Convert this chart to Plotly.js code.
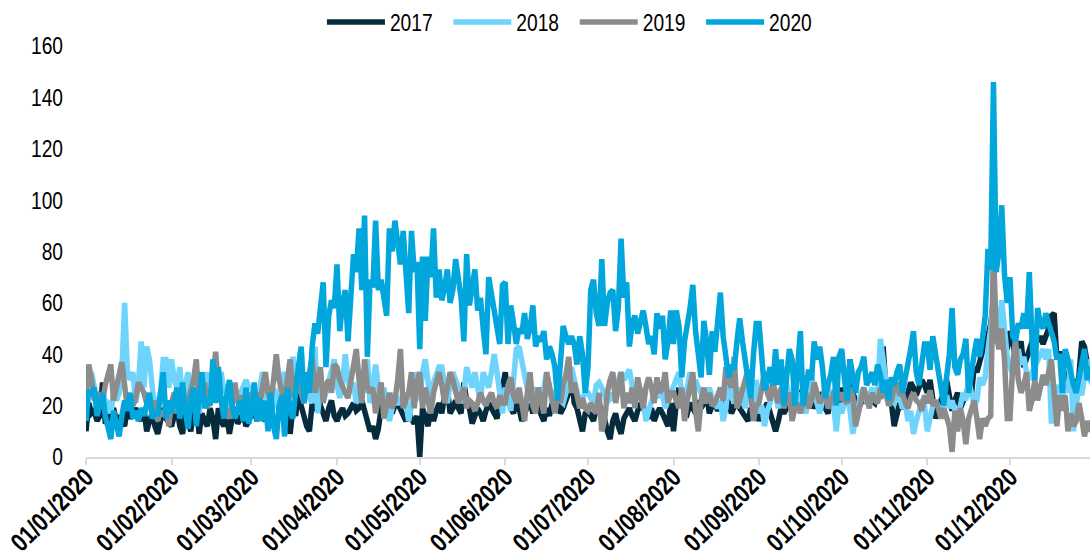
<!DOCTYPE html>
<html>
<head>
<meta charset="utf-8">
<script src="https://cdn.plot.ly/plotly-3.0.1.min.js"></script>
<style>
html,body{margin:0;padding:0;background:#fff;}
#chart{width:1090px;height:557px;}
</style>
</head>
<body>
<div id="chart"></div>
<script>
// Series names and colours
var seriesNames = ["2017", "2018", "2019", "2020"];
var seriesColors = ["#062b3d", "#6fd4fb", "#8c8c8c", "#00a6dc"];

// Daily values, one row per month (Jan..Dec), 366 days of 2020 on the x axis
var v2017 = [
  10,21,17,18,14,16,29,13,15,17,19,14,16,14,12,19,15,17,19,16,14,19,10,14,17,12,9,14,19,15,13,
  12,16,19,12,9,17,14,10,19,22,9,17,14,12,19,15,7,19,14,12,16,9,15,18,13,15,17,12,14,
  21,17,14,19,16,14,17,20,21,25,19,17,19,22,9,19,16,25,20,15,12,10,21,18,25,20,17,14,19,22,16,
  14,17,19,16,17,19,21,18,19,22,17,14,10,12,7,11,19,25,21,23,17,20,21,19,17,14,17,15,13,16,
  0,19,15,12,19,14,18,21,17,24,27,17,19,22,19,17,29,22,19,13,16,19,17,14,18,21,19,17,15,21,29,
  33,24,19,17,21,19,14,17,19,22,17,21,19,17,14,19,16,21,18,21,17,19,22,25,33,21,19,13,10,17,
  18,16,14,19,21,17,15,10,7,14,17,12,9,15,17,19,16,14,18,21,19,17,15,19,14,17,19,17,15,12,21,
  10,21,27,21,18,17,21,19,17,22,19,21,24,17,20,21,18,21,19,23,21,17,19,22,19,17,15,14,19,17,21,
  14,18,19,21,17,12,10,14,19,17,19,21,18,19,21,24,27,21,19,22,19,21,23,25,19,17,22,25,23,21,
  27,21,24,38,25,22,19,21,23,21,25,22,21,25,23,43,27,25,21,12,18,21,19,21,25,29,27,24,27,30,28,
  25,30,22,15,19,22,25,30,24,18,22,25,19,22,25,27,24,35,33,38,41,44,47,52,61,56,52,49,45,42,
  49,45,38,42,45,35,38,42,45,49,45,47,44,47,50,55,56,38,41,36,30,33,28,30,25,32,45,43,35,30,32
];
var v2018 = [
  22,31,33,28,21,25,19,22,21,17,25,22,25,33,60,33,30,33,21,28,45,27,43,38,27,17,21,25,38,38,27,
  38,30,27,35,21,28,33,19,27,24,17,25,30,33,21,25,27,30,33,25,28,19,24,27,22,25,28,30,27,
  27,22,19,26,33,25,21,24,27,19,25,30,33,21,28,39,25,33,42,28,27,23,21,43,17,27,22,25,30,33,38,
  28,23,29,40,30,25,29,21,27,30,25,38,21,27,36,27,22,27,21,14,19,25,21,21,25,21,14,20,27,33,
  22,33,38,27,21,29,33,35,35,27,21,28,33,30,27,21,25,35,30,27,33,25,21,33,30,27,33,40,33,25,17,
  27,22,18,30,42,43,38,33,27,21,25,27,21,24,27,33,28,21,25,27,22,21,25,27,35,30,25,21,23,25,
  25,23,21,28,29,27,24,21,25,22,27,30,33,30,32,34,28,21,24,27,22,14,18,21,25,23,27,24,19,22,25,
  27,30,33,25,21,27,33,28,30,27,25,21,25,27,23,21,19,22,14,19,30,25,21,24,27,22,19,27,23,21,30,
  17,20,12,18,21,27,24,19,25,35,28,25,21,24,19,25,22,17,26,33,25,21,17,22,25,27,24,21,10,21,
  17,22,25,18,9,15,21,25,27,21,24,27,22,25,46,38,30,27,22,21,25,23,19,22,14,18,9,14,17,21,20,
  10,15,20,22,19,17,21,24,19,22,18,16,20,25,22,30,25,20,22,31,28,31,42,50,64,56,48,61,50,39,
  35,32,38,42,36,39,33,30,33,35,37,39,42,38,42,13,25,28,24,22,28,25,38,10,20,28,24,33,38,30,28
];
var v2019 = [
  25,36,30,22,25,23,22,28,33,36,22,26,32,37,25,19,23,20,23,29,27,25,21,22,18,22,14,18,16,20,12,
  21,25,17,20,27,18,22,25,30,38,21,26,29,19,24,30,41,27,22,21,18,15,20,29,21,24,16,20,25,
  21,24,25,20,27,33,25,21,30,40,30,25,21,30,38,23,29,34,25,21,27,32,39,25,30,35,21,28,30,25,36,
  35,30,27,25,23,29,33,42,30,21,38,27,25,27,17,22,29,15,20,25,19,22,30,42,19,22,25,33,19,29,
  33,19,27,22,17,25,29,33,28,21,27,33,30,25,21,24,27,19,22,21,18,21,25,22,20,23,25,21,19,24,21,
  21,28,31,24,21,27,21,14,25,33,20,17,27,22,17,33,27,21,17,24,21,28,32,39,25,29,24,19,23,19,
  18,21,19,17,25,10,14,25,30,33,21,27,33,19,25,21,27,19,31,25,19,27,31,27,21,31,25,27,33,21,25,
  25,22,19,27,14,22,27,33,18,10,22,27,21,25,20,21,24,27,22,35,30,27,39,19,22,27,30,34,21,14,20,
  21,27,33,25,22,29,24,21,27,19,22,25,14,19,21,17,21,25,19,22,29,24,21,23,27,19,21,25,27,22,
  25,22,21,27,24,12,18,21,27,23,19,25,22,21,27,24,25,20,22,27,29,24,25,21,19,23,25,22,21,18,24,
  21,26,20,22,19,15,19,16,12,2,18,10,19,14,5,15,18,22,15,7,15,12,15,16,82,47,42,50,38,15,
  15,36,46,30,25,28,33,18,22,30,22,26,32,28,32,38,25,12,24,18,24,10,17,12,14,21,15,8,14,10,12
];
var v2020 = [
  14,26,24,27,16,20,25,16,12,7,18,12,8,16,22,18,25,15,18,14,19,16,20,25,15,18,16,24,33,15,22,
  17,22,27,15,29,18,11,22,27,12,24,33,19,23,20,38,21,35,22,15,24,30,20,15,19,22,14,27,13,
  17,29,14,23,14,22,10,25,12,7,20,24,8,27,18,15,28,35,43,21,33,25,43,52,48,60,68,35,55,61,58,
  75,49,60,65,45,62,79,72,89,65,94,39,69,66,92,65,69,62,55,89,80,92,85,75,88,70,56,88,72,76,
  42,78,53,78,70,89,62,73,61,66,73,60,65,77,70,62,45,79,59,65,73,57,62,50,40,70,64,55,51,44,67,
  68,44,59,52,44,50,48,56,46,50,59,43,47,45,49,38,43,40,35,22,40,51,47,44,47,44,36,47,40,25,
  35,65,69,56,51,77,51,60,64,65,49,58,85,62,68,43,52,55,48,52,57,51,44,47,40,56,50,55,38,45,57,
  44,57,51,31,45,51,58,67,49,40,31,53,45,32,49,41,55,64,47,40,31,36,34,45,54,45,38,30,23,40,52,
  52,40,26,30,35,28,42,28,38,20,30,42,38,20,35,49,20,28,34,30,45,38,43,35,23,28,32,39,20,39,
  42,30,22,38,30,25,33,35,39,28,30,33,28,36,32,25,30,22,31,28,33,36,25,30,35,42,49,33,28,38,44,
  44,34,47,40,36,28,20,31,40,58,35,32,38,40,46,25,35,40,46,39,46,55,81,73,146,72,80,98,71,60,
  70,47,45,52,50,56,50,72,45,30,58,52,50,56,52,48,45,38,40,25,42,38,32,28,25,31,35,42,30,35,33
];

// Day-of-year categories for the shared 2020 calendar axis
var dates = [];
for (var i = 0; i < v2020.length; i++) {
  var d = new Date(Date.UTC(2020, 0, 1 + i));
  dates.push(d.toISOString().slice(0, 10));
}

var seriesValues = [v2017, v2018, v2019, v2020];
var traces = seriesValues.map(function (vals, k) {
  return {
    type: "scatter",
    mode: "lines",
    name: seriesNames[k],
    x: dates,
    y: vals,
    line: { color: seriesColors[k], width: 5.5 },
    hoverinfo: "x+y+name"
  };
});

var FONT = "'Liberation Sans', Arial, sans-serif";

var layout = {
  width: 1090,
  height: 557,
  margin: { l: 86, r: 0, t: 46, b: 100, pad: 0 },
  paper_bgcolor: "#ffffff",
  plot_bgcolor: "#ffffff",
  font: { family: FONT, size: 24, color: "#000000" },
  showlegend: true,
  legend: {
    orientation: "h",
    x: 0.487,
    xanchor: "center",
    y: 1.058,
    yanchor: "middle",
    font: { family: FONT, size: 24, color: "#000000" },
    itemwidth: 58,
    tracegroupgap: 0,
    bgcolor: "rgba(0,0,0,0)"
  },
  xaxis: {
    type: "date",
    range: ["2020-01-01", "2020-12-30"],
    tick0: "2020-01-01",
    dtick: "M1",
    tickformat: "%d/%m/%Y",
    tickangle: -45,
    ticklabeloverflow: "allow",
    ticklabelstandoff: -13,
    tickfont: { family: FONT, size: 26, color: "#000000", weight: "bold" },
    showgrid: false,
    zeroline: false,
    showline: true,
    linecolor: "#d9d9d9",
    linewidth: 2,
    ticks: "outside",
    ticklen: 6,
    tickwidth: 2,
    tickcolor: "#d9d9d9",
    fixedrange: true
  },
  yaxis: {
    range: [0, 160],
    dtick: 20,
    tick0: 0,
    showgrid: false,
    zeroline: false,
    showline: false,
    ticks: "",
    ticklabelstandoff: 22,
    tickfont: { family: FONT, size: 24, color: "#000000" },
    fixedrange: true
  }
};

// The reference uses a narrow typeface; condense the rendered text horizontally
function condense(selector, s) {
  document.querySelectorAll(selector).forEach(function (t) {
    var x = parseFloat(t.getAttribute("x")) || 0;
    var y = parseFloat(t.getAttribute("y")) || 0;
    var tr = t.getAttribute("transform") || "";
    t.setAttribute("transform", tr + " translate(" + x + "," + y + ") scale(" + s + ",1) translate(" + (-x) + "," + (-y) + ")");
  });
}

Plotly.newPlot("chart", traces, layout, { displayModeBar: false, staticPlot: true }).then(function () {
  condense("#chart .xtick text", 0.8);
  condense("#chart .ytick text", 0.8);
  condense("#chart .legendtext", 0.8);
});
</script>
</body>
</html>
